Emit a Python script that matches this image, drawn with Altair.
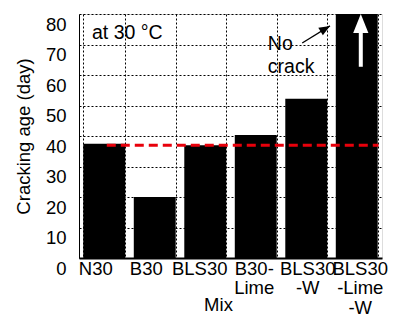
import altair as alt
import pandas as pd

# ---- data ----
mixes = ["N30", "B30", "BLS30", "B30-Lime", "BLS30-W", "BLS30-Lime-W"]
ages = [37.5, 20, 37, 40.3, 52.2, 80]
label_offsets = [-9, -9, -6, -2, 1, 3]
y_ticks = [0, 10, 20, 30, 40, 50, 60, 70, 80]
ref_age = 37                      # red dashed reference line
ref_x = [0.55, 5.93]              # extent of reference line (band units)

# annotation positions (band units on x, days on y)
arrow_white_x = 5.58
arrow_white_y = [62.7, 73.8]      # shaft bottom, head base
arrow_black = [4.42, 70.5, 4.97, 76.1]
texts = ["at 30 °C", "No", "crack"]
text_x = [0.257, 3.74, 3.74]
text_y = [71.8, 68.2, 60.7]

FONT = "Liberation Sans"
FS = 18.5
W, H = 303, 244

df = pd.DataFrame({"mix": mixes, "age": ages})

ysc = alt.Scale(domain=[0, 80], nice=False, zero=True)
xq = alt.Scale(domain=[0, 6], nice=False, zero=False)

yaxis = alt.Axis(title="Cracking age (day)", values=y_ticks, labelOverlap=False,
                 labelFont=FONT, labelFontSize=FS, labelColor="black",
                 labelOffset=10, labelPadding=13, ticks=False,
                 grid=True, gridDash=[2, 2], gridColor="black", gridWidth=1,
                 gridOpacity=1, domainColor="black", domainWidth=1,
                 titleFont=FONT, titleFontSize=FS, titleFontWeight="normal",
                 titleColor="black", titlePadding=12)

label_expr = ("datum.label == 'B30-Lime' ? ['B30-', 'Lime'] : "
              "datum.label == 'BLS30-W' ? ['BLS30', '-W'] : "
              "datum.label == 'BLS30-Lime-W' ? ['BLS30', '-Lime', '-W'] : datum.label")
off_cond = {"condition": [{"test": f"datum.value == '{m}'", "value": o}
                          for m, o in zip(mixes, label_offsets)], "value": 0}

bars = alt.Chart(df).mark_bar(color="black").encode(
    x=alt.X("mix:N", sort=mixes,
            scale=alt.Scale(paddingInner=0.17, paddingOuter=0.085),
            axis=alt.Axis(title="Mix", labelAngle=0, labelExpr=label_expr,
                          labelOffset=off_cond,
                          labelFont=FONT, labelFontSize=FS, labelColor="black",
                          labelLineHeight=19.5, labelPadding=1, labelBaseline="top",
                          ticks=False, tickBand="extent", grid=True,
                          gridDash=[2, 2], gridColor="black", gridWidth=1, gridOpacity=1,
                          domainColor="black", domainWidth=2,
                          titleFont=FONT, titleFontSize=FS, titleFontWeight="normal",
                          titleColor="black", titleX=139, titleY=46,
                          titleBaseline="middle", titleAnchor="start", titleAlign="center")),
    y=alt.Y("age:Q", scale=ysc, axis=yaxis),
)

ref_df = pd.DataFrame({"x": [ref_x[0]], "x2": [ref_x[1]], "y": [ref_age]})
ref = alt.Chart(ref_df).mark_rule(color="#e8000b", strokeWidth=3, strokeDash=[9, 5]).encode(
    x=alt.X("x:Q", scale=xq, axis=None), x2="x2:Q",
    y=alt.Y("y:Q", scale=ysc, axis=yaxis))

wa_df = pd.DataFrame({"x": [arrow_white_x], "y": [arrow_white_y[0]], "y2": [arrow_white_y[1]]})
wshaft = alt.Chart(wa_df).mark_rule(color="white", strokeWidth=4).encode(
    x=alt.X("x:Q", scale=xq, axis=None), y=alt.Y("y:Q", scale=ysc, axis=yaxis), y2="y2:Q")
whead = alt.Chart(wa_df).mark_point(shape="M-0.4,0L0.4,0L0,-1Z", filled=True, color="white",
                                    size=1444, opacity=1, strokeWidth=0).encode(
    x=alt.X("x:Q", scale=xq, axis=None), y=alt.Y("y2:Q", scale=ysc, axis=yaxis))

ba_df = pd.DataFrame({"x": [arrow_black[0]], "y": [arrow_black[1]],
                      "x2": [arrow_black[2]], "y2": [arrow_black[3]]})
bshaft = alt.Chart(ba_df).mark_rule(color="black", strokeWidth=1.3).encode(
    x=alt.X("x:Q", scale=xq, axis=None), y=alt.Y("y:Q", scale=ysc, axis=yaxis),
    x2="x2:Q", y2="y2:Q")
bhead = alt.Chart(ba_df).mark_point(shape="M0,0L-1,-0.4L-1,0.4Z", filled=True, color="black",
                                    size=484, opacity=1, strokeWidth=0, angle=328.7).encode(
    x=alt.X("x2:Q", scale=xq, axis=None), y=alt.Y("y2:Q", scale=ysc, axis=yaxis))

t_df = pd.DataFrame({"t": texts, "x": text_x, "y": text_y})
txt = alt.Chart(t_df).mark_text(font=FONT, fontSize=19.5, align="left", baseline="alphabetic",
                                color="black").encode(
    x=alt.X("x:Q", scale=xq, axis=None), y=alt.Y("y:Q", scale=ysc, axis=yaxis), text="t:N")

chart = alt.layer(bars, ref, wshaft, whead, bshaft, bhead, txt).resolve_scale(
    x="independent"
).properties(
    width=W, height=H,
    autosize=alt.AutoSizeParams(type="none"),
    padding={"left": 71, "top": 6, "right": 6, "bottom": 59},
).configure_view(stroke="black", strokeWidth=2).configure(background="white")

chart.save("out.html", embed_options={"renderer": "svg", "actions": False})
